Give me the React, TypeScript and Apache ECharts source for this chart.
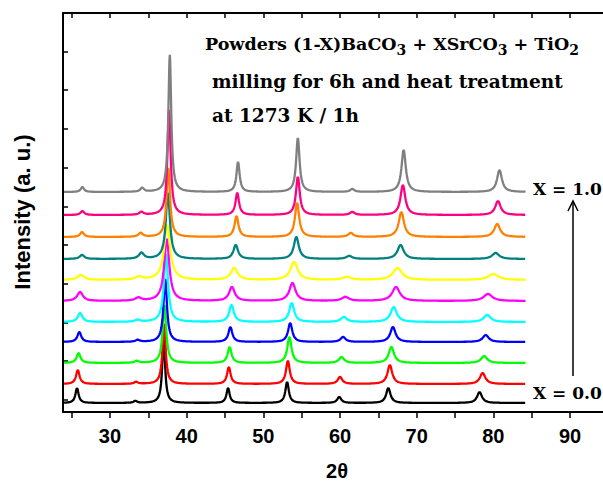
import React, { useEffect, useRef } from "react";
import * as echarts from "echarts";

// Sample labels (X in (1-X)BaCO3 + XSrCO3 + TiO2), bottom to top
const sampleNames = ["X = 0.0", "X = 0.1", "X = 0.2", "X = 0.3", "X = 0.4", "X = 0.5", "X = 0.6", "X = 0.7", "X = 0.8", "X = 0.9", "X = 1.0"];
const sampleColors = ["#000000", "#ff0000", "#00ff00", "#0000ff", "#00ffff", "#ff00ff", "#ffff00", "#008080", "#ff8000", "#ff0080", "#808080"];
// vertical offsets of each pattern (a.u.)
const baselines = [9, 28, 49, 70, 90, 111, 132, 153, 175, 197, 220];
// peak widths (FWHM, degrees) per sample
const widths = [0.45, 0.5, 0.55, 0.55, 0.65, 0.8, 0.95, 0.65, 0.55, 0.5, 0.45];

// reflections: positions (2θ) and heights (a.u.) per sample
const peak26Pos = [25.7, 25.8, 25.9, 26.0, 26.1, 26.1, 26.2, 26.35, 26.35, 26.4, 26.4];
const peak26H = [15, 14, 10, 10, 9, 9, 5, 4, 5, 4, 5];
const peak34Pos = [33.3, 33.4, 33.5, 33.6, 33.6, 33.7, 33.8, 34.1, 34.0, 34.1, 34.2];
const peak34H = [2, 2, 2, 2, 2, 3, 3, 6, 4, 3, 4];
const peak37Pos = [37.0, 37.05, 37.1, 37.2, 37.3, 37.4, 37.45, 37.55, 37.6, 37.7, 37.8];
const peak37H = [65, 60, 58, 63, 68, 62, 55, 66, 69, 105, 137];
const peak46Pos = [45.4, 45.5, 45.6, 45.7, 45.85, 45.9, 46.2, 46.4, 46.5, 46.6, 46.7];
const peak46H = [15, 17, 16, 15, 17, 14, 12, 14, 21, 22, 30];
const peak53Pos = [53.1, 53.2, 53.4, 53.5, 53.7, 53.8, 54.0, 54.3, 54.4, 54.5, 54.5];
const peak53H = [21, 23, 26, 19, 19, 18, 18, 22, 34, 38, 54];
const peak60Pos = [59.9, 60.0, 60.2, 60.4, 60.5, 60.7, 60.9, 61.2, 61.4, 61.6, 61.6];
const peak60H = [6, 7, 6, 5, 5, 4, 3, 3, 4, 3, 3];
const peak66Pos = [66.3, 66.5, 66.7, 66.9, 67.0, 67.3, 67.5, 67.9, 68.0, 68.2, 68.3];
const peak66H = [15, 19, 16, 15, 15, 14, 12, 14, 25, 30, 42];
const peak78Pos = [78.2, 78.6, 78.8, 79.0, 79.2, 79.3, 80.0, 80.3, 80.5, 80.6, 80.8];
const peak78H = [11, 11, 7, 7, 7, 7, 6, 6, 13, 14, 22];
const reflWidthScale = [1.1, 1.2, 1.0, 1.1, 1.2, 1.4, 1.5, 1.7];

// axes
const xMin = 23.87;
const xMax = 94.3;
const xScanStart = 24.0;
const xScanEnd = 84.2;
const xLabelValues = [30, 40, 50, 60, 70, 80, 90];
const xTickValues = [25, 30, 35, 40, 45, 50, 55, 60, 65, 70, 75, 80, 85, 90];
const yTickValues = [12, 51, 89, 128, 167, 205, 244, 283, 322, 360, 399];

const peakPosTable = [peak26Pos, peak34Pos, peak37Pos, peak46Pos, peak53Pos, peak60Pos, peak66Pos, peak78Pos];
const peakHTable = [peak26H, peak34H, peak37H, peak46H, peak53H, peak60H, peak66H, peak78H];

function buildSeries(i: number) {
  const xs: number[] = [];
  for (let k = 0; xScanStart + k * 0.05 <= xScanEnd + 1e-9; k++) xs.push(+(xScanStart + k * 0.05).toFixed(3));
  peakPosTable.forEach((p) => xs.push(p[i]));
  xs.sort((a, b) => a - b);
  return xs.map((x) => {
    let y = baselines[i];
    for (let r = 0; r < peakPosTable.length; r++) {
      const hw = (widths[i] * reflWidthScale[r]) / 2;
      const d = (x - peakPosTable[r][i]) / hw;
      y += peakHTable[r][i] / (1 + d * d);
    }
    return [x, y];
  });
}

export default function App() {
  const ref = useRef<HTMLDivElement>(null);
  useEffect(() => {
    document.body.style.margin = "0";
    const chart = echarts.init(ref.current!, undefined, { renderer: "svg" });
    const serif = "'DejaVu Serif', serif";
    const sans = "'Liberation Sans', Arial, sans-serif";
    const series = sampleNames.map((name, i) => ({
      name,
      type: "line",
      data: buildSeries(i),
      showSymbol: false,
      symbol: "none",
      lineStyle: { color: sampleColors[i], width: 2.3 },
      itemStyle: { color: sampleColors[i] },
      silent: true,
    }));
    chart.setOption({
      animation: false,
      backgroundColor: "#ffffff",
      grid: { left: 63, top: 13, right: 0, bottom: 71 },
      xAxis: [
        {
          type: "value",
          min: xMin,
          max: xMax,
          position: "bottom",
          axisLine: { show: true, lineStyle: { color: "#000", width: 2 } },
          axisTick: { show: true, inside: false, length: 6, customValues: xTickValues, lineStyle: { color: "#000", width: 1.5 } },
          axisLabel: { show: true, customValues: xLabelValues, margin: 14, color: "#000", fontFamily: sans, fontWeight: "bold", fontSize: 20 },
          splitLine: { show: false },
        },
        {
          type: "value",
          min: xMin,
          max: xMax,
          position: "top",
          axisLine: { show: true, lineStyle: { color: "#000", width: 2 } },
          axisTick: { show: true, inside: true, length: 5, customValues: xTickValues, lineStyle: { color: "#000", width: 1.5 } },
          axisLabel: { show: false },
          splitLine: { show: false },
        },
      ],
      yAxis: {
        type: "value",
        min: 0,
        max: 399,
        axisLine: { show: true, lineStyle: { color: "#000", width: 2 } },
        axisTick: { show: true, inside: true, length: 5, customValues: yTickValues, lineStyle: { color: "#000", width: 1.5 } },
        axisLabel: { show: false },
        splitLine: { show: false },
      },
      series,
      graphic: [
        {
          type: "text",
          x: 205,
          y: 44,
          style: {
            text: "Powders (1-X)BaCO{sub|3} + XSrCO{sub|3} + TiO{sub|2}",
            font: `bold 17.5px ${serif}`,
            fill: "#000",
            textVerticalAlign: "middle",
            rich: {
              sub: { font: `bold 14px ${serif}`, fill: "#000", padding: [12, 0, 0, 0] },
            },
          },
        },
        {
          type: "text",
          x: 212,
          y: 81,
          style: { text: "milling for 6h and heat treatment", font: `bold 18.5px ${serif}`, fill: "#000", textVerticalAlign: "middle" },
        },
        {
          type: "text",
          x: 212,
          y: 115,
          style: { text: "at 1273 K / 1h", font: `bold 18.5px ${serif}`, fill: "#000", textVerticalAlign: "middle" },
        },
        {
          type: "text",
          x: 533,
          y: 189,
          style: { text: "X = 1.0", font: `bold 17px ${serif}`, fill: "#000", textVerticalAlign: "middle" },
        },
        {
          type: "text",
          x: 533,
          y: 393,
          style: { text: "X = 0.0", font: `bold 17px ${serif}`, fill: "#000", textVerticalAlign: "middle" },
        },
        {
          type: "line",
          shape: { x1: 573, y1: 376, x2: 573, y2: 202 },
          style: { stroke: "#000", lineWidth: 1.5 },
        },
        {
          type: "polyline",
          shape: { points: [[568, 211], [573, 201], [578, 211]] },
          style: { stroke: "#000", lineWidth: 1.5, fill: null },
        },
        {
          type: "text",
          x: 337,
          y: 471,
          style: { text: "2θ", font: `bold 20px ${sans}`, fill: "#000", textAlign: "center", textVerticalAlign: "middle" },
        },
        {
          type: "text",
          x: 22,
          y: 212,
          rotation: Math.PI / 2,
          style: { text: "Intensity (a. u.)", font: `bold 22px ${sans}`, fill: "#000", textAlign: "center", textVerticalAlign: "middle" },
        },
      ],
    });
    return () => chart.dispose();
  }, []);
  return <div ref={ref} style={{ width: 603, height: 483 }} />;
}
